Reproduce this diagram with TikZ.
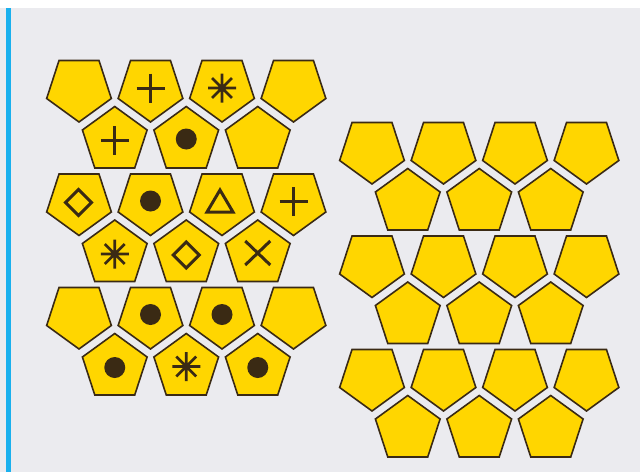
\documentclass[tikz,border=0pt]{standalone}
\definecolor{bgc}{HTML}{EBEBEF}
\definecolor{blu}{HTML}{1AB0EE}
\definecolor{yel}{HTML}{FFD600}
\definecolor{edgec}{HTML}{3A2A14}
\begin{document}
\begin{tikzpicture}[x=1pt,y=-1pt,
  pent/.style={draw=edgec,fill=yel,line width=1.6pt,line join=miter},
  sym/.style={draw=edgec,line width=3pt},
  pentd/.pic={\path[pent] (90:34)--(162:34)--(234:34)--(306:34)--(18:34)--cycle;},
  pentu/.pic={\path[pent] (270:34)--(342:34)--(54:34)--(126:34)--(198:34)--cycle;},
  plussym/.pic={\path[sym] (-14,0)--(14,0) (0,-14.5)--(0,14.5);},
  astsym/.pic={\path[sym,line width=2.6pt] (-14,0)--(14,0) (0,-14.5)--(0,14.5) (45:14)--(225:14) (135:14)--(315:14);},
  dotsym/.pic={\fill[edgec] (0,-1.5) circle (10.5);},
  diasym/.pic={\path[sym,line join=miter] (0,-13)--(13,0)--(0,13)--(-13,0)--cycle;},
  trisym/.pic={\path[sym,line join=miter] (0,-11.5)--(13,10.5)--(-13,10.5)--cycle;},
  xsym/.pic={\path[sym] (-12.5,-12)--(12.5,12) (-12.5,12)--(12.5,-12);}
]
\useasboundingbox (0,0) rectangle (640,472);
\fill[white] (0,0) rectangle (640,472);
\fill[bgc] (0,8) rectangle (640,472);
\fill[blu] (5.5,8) rectangle (11,472);
% left group
\foreach \r/\yd/\yu in {1/88/140.5,2/201.5/254,3/315/367.5}{
  \foreach \c/\xd in {1/79,2/150.5,3/222,4/293.5}{
    \pic (LD\r\c) at (\xd,\yd) {pentd};
  }
  \foreach \c/\xu in {1/114.75,2/186.25,3/257.75}{
    \pic (LU\r\c) at (\xu,\yu) {pentu};
  }
}
% right group
\foreach \r/\yd/\yu in {1/150/202.5,2/263.5/316,3/377/429.5}{
  \foreach \c/\xd in {1/372,2/443.5,3/515,4/586.5}{
    \pic (RD\r\c) at (\xd,\yd) {pentd};
  }
  \foreach \c/\xu in {1/407.75,2/479.25,3/550.75}{
    \pic (RU\r\c) at (\xu,\yu) {pentu};
  }
}
% symbols
\pic (s1) at (150.5,88) {plussym};
\pic (s2) at (222,88) {astsym};
\pic (s3) at (114.75,140.5) {plussym};
\pic (s4) at (186.25,140.5) {dotsym};
\pic (s5) at (78.5,202.5) {diasym};
\pic (s6) at (150.5,202.5) {dotsym};
\pic (s7) at (220,201.5) {trisym};
\pic (s8) at (293.5,201.5) {plussym};
\pic (s9) at (114.75,254) {astsym};
\pic (s10) at (186.25,255) {diasym};
\pic (s11) at (257.75,253) {xsym};
\pic (s12) at (150.5,316) {dotsym};
\pic (s13) at (222,316) {dotsym};
\pic (s14) at (114.75,369) {dotsym};
\pic (s15) at (186.25,366.5) {astsym};
\pic (s16) at (257.75,369) {dotsym};
\end{tikzpicture}
\end{document}
